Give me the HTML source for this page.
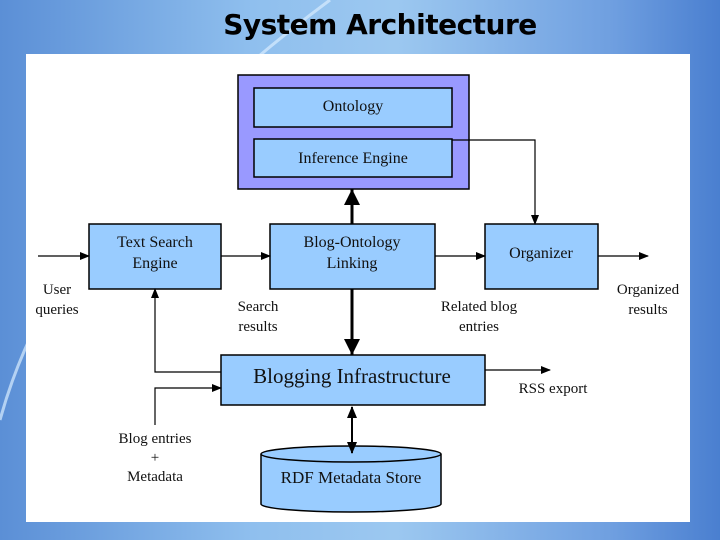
<!DOCTYPE html>
<html><head><style>
body{margin:0;width:720px;height:540px;overflow:hidden;background:linear-gradient(90deg,#5b8fd6 0%,#8fbfee 35%,#9cc8f0 55%,#6f9fe0 85%,#4a7fd0 100%);font-family:"Liberation Serif",serif;}
.t{position:absolute;left:0;width:760px;top:8px;text-align:center;font:bold 28px "DejaVu Sans","Liberation Sans",sans-serif;color:#000;letter-spacing:-0.5px}
svg{position:absolute;left:0;top:0}
</style></head><body>
<svg width="720" height="540">
<path d="M0 420 Q60 200 330 0" stroke="#d8ecff" stroke-width="3" fill="none" opacity="0.7"/>
<rect x="26" y="54" width="664" height="468" fill="#fff"/>
<defs><marker id="a" markerWidth="10" markerHeight="8" refX="9" refY="4" orient="auto" markerUnits="userSpaceOnUse"><path d="M0 0L10 4L0 8z"/></marker>
<marker id="b" markerWidth="18" markerHeight="18" refX="16" refY="8" orient="auto" markerUnits="userSpaceOnUse"><path d="M0 0L16 8L0 16z"/></marker>
<marker id="c" markerWidth="12" markerHeight="10" refX="11" refY="5" orient="auto" markerUnits="userSpaceOnUse"><path d="M0 0L12 5L0 10z"/></marker>
<marker id="cs" markerWidth="12" markerHeight="10" refX="1" refY="5" orient="auto" markerUnits="userSpaceOnUse"><path d="M12 0L0 5L12 10z"/></marker></defs>
<g stroke="#000" stroke-width="1.5">
<rect x="238" y="75" width="231" height="114" fill="#9999ff"/>
<rect x="254" y="88" width="198" height="39" fill="#99ccff"/>
<rect x="254" y="139" width="198" height="38" fill="#99ccff"/>
<rect x="89" y="224" width="132" height="65" fill="#99ccff"/>
<rect x="270" y="224" width="165" height="65" fill="#99ccff"/>
<rect x="485" y="224" width="113" height="65" fill="#99ccff"/>
<rect x="221" y="355" width="264" height="50" fill="#99ccff"/>
<path d="M261 454 V504 A90 8 0 0 0 441 504 V454" fill="#99ccff"/>
<ellipse cx="351" cy="454" rx="90" ry="8" fill="#99ccff"/>
</g>
<g stroke="#000" stroke-width="1.2" fill="none">
<line x1="38" y1="256" x2="89" y2="256" marker-end="url(#a)"/>
<line x1="221" y1="256" x2="270" y2="256" marker-end="url(#a)"/>
<line x1="435" y1="256" x2="485" y2="256" marker-end="url(#a)"/>
<line x1="598" y1="256" x2="648" y2="256" marker-end="url(#a)"/>
<path d="M452 140 H535 V224" marker-end="url(#a)"/>
<path d="M221 372 H155 V289" marker-end="url(#a)"/>
<path d="M155 425 V388 H221" marker-end="url(#a)"/>
<line x1="485" y1="370" x2="550" y2="370" marker-end="url(#a)"/>
<line x1="352" y1="224" x2="352" y2="189" stroke-width="3" marker-end="url(#b)"/>
<line x1="352" y1="289" x2="352" y2="355" stroke-width="3" marker-end="url(#b)"/>
<line x1="352" y1="407" x2="352" y2="453" stroke-width="2" marker-end="url(#c)" marker-start="url(#cs)"/>
</g>
<g font-family="Liberation Serif,serif" font-size="16" text-anchor="middle" fill="#111">
<text x="353" y="111">Ontology</text>
<text x="353" y="163">Inference Engine</text>
<text x="155" y="247">Text Search</text><text x="155" y="268">Engine</text>
<text x="352" y="247">Blog-Ontology</text><text x="352" y="268">Linking</text>
<text x="541" y="258">Organizer</text>
<text x="352" y="383" font-size="21">Blogging Infrastructure</text>
<text x="351" y="483" font-size="17">RDF Metadata Store</text>
<g font-size="15">
<text x="57" y="294">User</text><text x="57" y="314">queries</text>
<text x="258" y="311">Search</text><text x="258" y="331">results</text>
<text x="479" y="311">Related blog</text><text x="479" y="331">entries</text>
<text x="648" y="294">Organized</text><text x="648" y="314">results</text>
<text x="553" y="393">RSS export</text>
<text x="155" y="443">Blog entries</text><text x="155" y="462">+</text><text x="155" y="481">Metadata</text>
</g></g>
</svg>
<div class="t">System Architecture</div>
</body></html>
